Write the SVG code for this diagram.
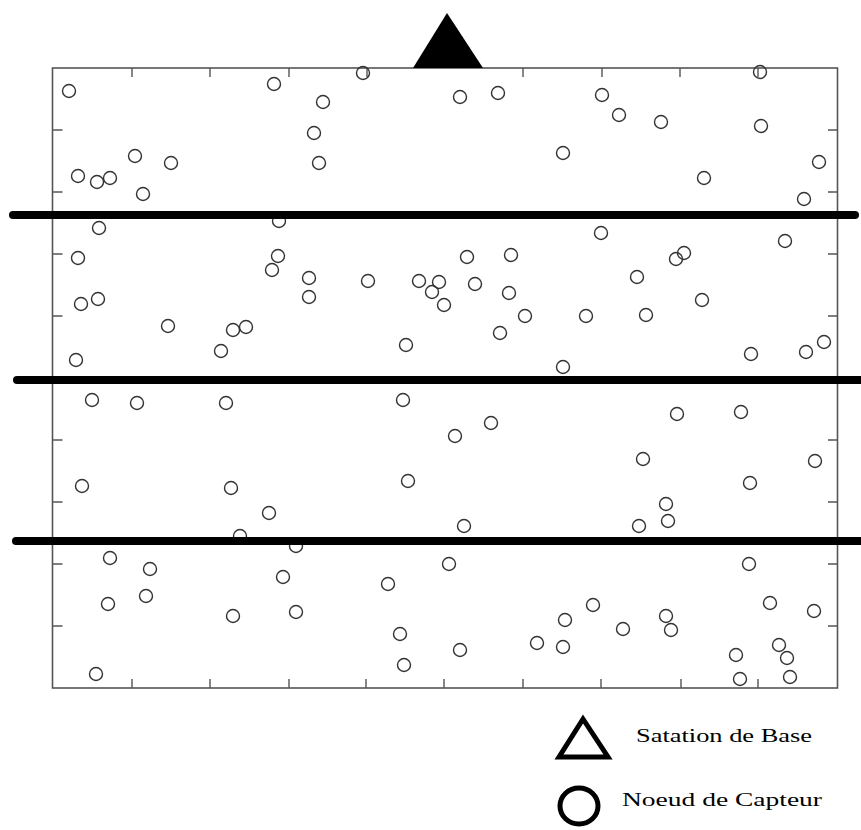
<svg xmlns="http://www.w3.org/2000/svg" width="861" height="830" viewBox="0 0 861 830">
<style>
.frame{fill:none;stroke:#555;stroke-width:1.6}
.tick{stroke:#555;stroke-width:1.4}
.s{fill:none;stroke:#333;stroke-width:1.4}
.sep{stroke:#000;stroke-width:8;stroke-linecap:round}
.lbl{font-family:"Liberation Serif","Times New Roman",serif;font-size:18px;fill:#000}
</style>
<rect width="861" height="830" fill="#fff"/>
<g id="plot-frame">
<rect class="frame" x="52.5" y="68" width="785" height="620"/>
<path class="tick" d="M132 68v9M210 68v9M289 68v9M367 68v9M523 68v9M602 68v9M680 68v9M758 68v9
M132 688v-9M210 688v-9M289 688v-9M366 688v-9M444 688v-9M523 688v-9M601 688v-9M681 688v-9M758 688v-9
M52.5 130h10M52.5 192h10M52.5 254h10M52.5 316h10M52.5 378h10M52.5 440h10M52.5 502h10M52.5 564h10M52.5 626h10
M837 130h-9M837 192h-9M837 254h-9M837 316h-9M837 378h-9M837 440h-9M837 502h-9M837 564h-9M837 626h-9"/>
</g>
<g id="sensors">
<circle class="s" cx="69" cy="91" r="6.5"/>
<circle class="s" cx="135" cy="156" r="6.5"/>
<circle class="s" cx="171" cy="163" r="6.5"/>
<circle class="s" cx="78" cy="176" r="6.5"/>
<circle class="s" cx="97" cy="182" r="6.5"/>
<circle class="s" cx="110" cy="178" r="6.5"/>
<circle class="s" cx="143" cy="194" r="6.5"/>
<circle class="s" cx="99" cy="228" r="6.5"/>
<circle class="s" cx="363" cy="73" r="6.5"/>
<circle class="s" cx="274" cy="84" r="6.5"/>
<circle class="s" cx="323" cy="102" r="6.5"/>
<circle class="s" cx="314" cy="133" r="6.5"/>
<circle class="s" cx="319" cy="163" r="6.5"/>
<circle class="s" cx="279" cy="221" r="6.5"/>
<circle class="s" cx="460" cy="97" r="6.5"/>
<circle class="s" cx="498" cy="93" r="6.5"/>
<circle class="s" cx="602" cy="95" r="6.5"/>
<circle class="s" cx="619" cy="115" r="6.5"/>
<circle class="s" cx="661" cy="122" r="6.5"/>
<circle class="s" cx="563" cy="153" r="6.5"/>
<circle class="s" cx="601" cy="233" r="6.5"/>
<circle class="s" cx="760" cy="72" r="6.5"/>
<circle class="s" cx="761" cy="126" r="6.5"/>
<circle class="s" cx="819" cy="162" r="6.5"/>
<circle class="s" cx="704" cy="178" r="6.5"/>
<circle class="s" cx="804" cy="199" r="6.5"/>
<circle class="s" cx="785" cy="241" r="6.5"/>
<circle class="s" cx="78" cy="258" r="6.5"/>
<circle class="s" cx="81" cy="304" r="6.5"/>
<circle class="s" cx="98" cy="299" r="6.5"/>
<circle class="s" cx="168" cy="326" r="6.5"/>
<circle class="s" cx="76" cy="360" r="6.5"/>
<circle class="s" cx="92" cy="400" r="6.5"/>
<circle class="s" cx="137" cy="403" r="6.5"/>
<circle class="s" cx="278" cy="256" r="6.5"/>
<circle class="s" cx="272" cy="270" r="6.5"/>
<circle class="s" cx="309" cy="278" r="6.5"/>
<circle class="s" cx="309" cy="297" r="6.5"/>
<circle class="s" cx="368" cy="281" r="6.5"/>
<circle class="s" cx="419" cy="281" r="6.5"/>
<circle class="s" cx="439" cy="282" r="6.5"/>
<circle class="s" cx="432" cy="292" r="6.5"/>
<circle class="s" cx="444" cy="305" r="6.5"/>
<circle class="s" cx="233" cy="330" r="6.5"/>
<circle class="s" cx="246" cy="327" r="6.5"/>
<circle class="s" cx="221" cy="351" r="6.5"/>
<circle class="s" cx="406" cy="345" r="6.5"/>
<circle class="s" cx="226" cy="403" r="6.5"/>
<circle class="s" cx="403" cy="400" r="6.5"/>
<circle class="s" cx="467" cy="257" r="6.5"/>
<circle class="s" cx="511" cy="255" r="6.5"/>
<circle class="s" cx="475" cy="284" r="6.5"/>
<circle class="s" cx="509" cy="293" r="6.5"/>
<circle class="s" cx="525" cy="316" r="6.5"/>
<circle class="s" cx="500" cy="333" r="6.5"/>
<circle class="s" cx="586" cy="316" r="6.5"/>
<circle class="s" cx="637" cy="277" r="6.5"/>
<circle class="s" cx="646" cy="315" r="6.5"/>
<circle class="s" cx="563" cy="367" r="6.5"/>
<circle class="s" cx="491" cy="423" r="6.5"/>
<circle class="s" cx="455" cy="436" r="6.5"/>
<circle class="s" cx="643" cy="459" r="6.5"/>
<circle class="s" cx="676" cy="259" r="6.5"/>
<circle class="s" cx="684" cy="253" r="6.5"/>
<circle class="s" cx="702" cy="300" r="6.5"/>
<circle class="s" cx="751" cy="354" r="6.5"/>
<circle class="s" cx="806" cy="352" r="6.5"/>
<circle class="s" cx="824" cy="342" r="6.5"/>
<circle class="s" cx="677" cy="414" r="6.5"/>
<circle class="s" cx="741" cy="412" r="6.5"/>
<circle class="s" cx="815" cy="461" r="6.5"/>
<circle class="s" cx="82" cy="486" r="6.5"/>
<circle class="s" cx="110" cy="558" r="6.5"/>
<circle class="s" cx="150" cy="569" r="6.5"/>
<circle class="s" cx="108" cy="604" r="6.5"/>
<circle class="s" cx="146" cy="596" r="6.5"/>
<circle class="s" cx="96" cy="674" r="6.5"/>
<circle class="s" cx="231" cy="488" r="6.5"/>
<circle class="s" cx="269" cy="513" r="6.5"/>
<circle class="s" cx="240" cy="536" r="6.5"/>
<circle class="s" cx="296" cy="546" r="6.5"/>
<circle class="s" cx="408" cy="481" r="6.5"/>
<circle class="s" cx="283" cy="577" r="6.5"/>
<circle class="s" cx="388" cy="584" r="6.5"/>
<circle class="s" cx="233" cy="616" r="6.5"/>
<circle class="s" cx="296" cy="612" r="6.5"/>
<circle class="s" cx="400" cy="634" r="6.5"/>
<circle class="s" cx="404" cy="665" r="6.5"/>
<circle class="s" cx="464" cy="526" r="6.5"/>
<circle class="s" cx="639" cy="526" r="6.5"/>
<circle class="s" cx="666" cy="504" r="6.5"/>
<circle class="s" cx="668" cy="521" r="6.5"/>
<circle class="s" cx="449" cy="564" r="6.5"/>
<circle class="s" cx="593" cy="605" r="6.5"/>
<circle class="s" cx="565" cy="620" r="6.5"/>
<circle class="s" cx="623" cy="629" r="6.5"/>
<circle class="s" cx="537" cy="643" r="6.5"/>
<circle class="s" cx="563" cy="647" r="6.5"/>
<circle class="s" cx="460" cy="650" r="6.5"/>
<circle class="s" cx="750" cy="483" r="6.5"/>
<circle class="s" cx="749" cy="564" r="6.5"/>
<circle class="s" cx="770" cy="603" r="6.5"/>
<circle class="s" cx="814" cy="611" r="6.5"/>
<circle class="s" cx="666" cy="616" r="6.5"/>
<circle class="s" cx="671" cy="630" r="6.5"/>
<circle class="s" cx="779" cy="645" r="6.5"/>
<circle class="s" cx="787" cy="658" r="6.5"/>
<circle class="s" cx="736" cy="655" r="6.5"/>
<circle class="s" cx="740" cy="679" r="6.5"/>
<circle class="s" cx="790" cy="677" r="6.5"/>
</g>
<g id="separators">
<line class="sep" x1="13" y1="215" x2="855" y2="215"/>
<line class="sep" x1="17" y1="380" x2="870" y2="380"/>
<line class="sep" x1="16" y1="541" x2="870" y2="541"/>
</g>
<g id="base-station">
<polygon points="413,68 447,13 483,68" fill="#000"/>
</g>
<g id="legend-base">
<polygon points="559,757 583,719 608,757" fill="none" stroke="#000" stroke-width="5"/>
<text class="lbl" x="636" y="742" textLength="176" lengthAdjust="spacingAndGlyphs">Satation de Base</text>
</g>
<g id="legend-sensor">
<ellipse cx="579" cy="806" rx="19" ry="18" fill="none" stroke="#000" stroke-width="5"/>
<text class="lbl" x="622" y="806" textLength="200" lengthAdjust="spacingAndGlyphs">Noeud de Capteur</text>
</g>
</svg>
